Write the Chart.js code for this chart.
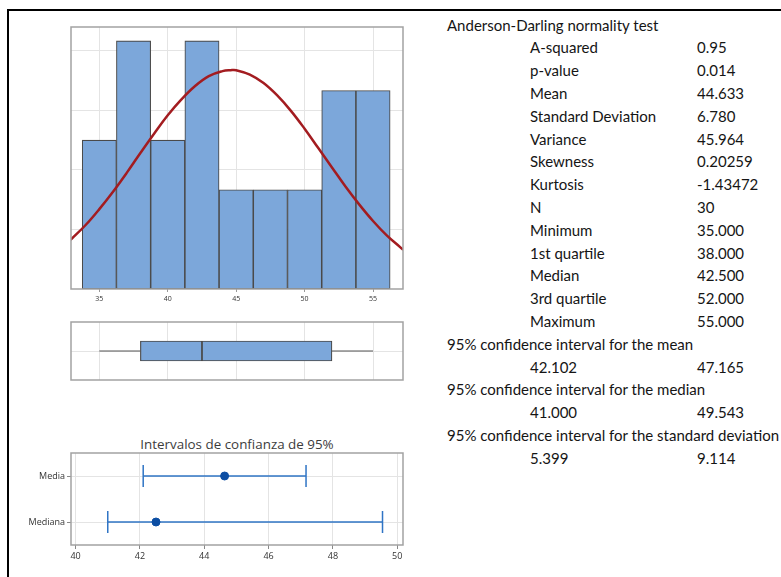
<!DOCTYPE html>
<html>
<head>
<meta charset="utf-8">
<script src="https://cdn.jsdelivr.net/npm/chart.js@4.4.1/dist/chart.umd.min.js"></script>
<style>
  body { margin: 0; background: #fff; }
  #page { position: relative; width: 781px; height: 577px; overflow: hidden; font-family: Lato, sans-serif; color: #151515; }
  #outer { position: absolute; left: 7px; top: 9px; width: 800px; height: 600px; border-top: 2px solid #000; border-left: 2px solid #000; }
  canvas { position: absolute; }
  .txt { position: absolute; font-size: 15px; line-height: 20px; height: 20px; white-space: nowrap; }
  #ciTitle { position: absolute; left: 117px; width: 240px; top: 435px; text-align: center; font: 13.4px "Open Sans", sans-serif; color: #3c3c3c; white-space: nowrap; }
</style>
</head>
<body>
<div id="page">
  <div id="outer"></div>
  <canvas id="hist" width="380" height="300" style="left:40px;top:15px"></canvas>
  <canvas id="box" width="380" height="70" style="left:40px;top:315px"></canvas>
  <div id="ciTitle">Intervalos de confianza de 95%</div>
  <canvas id="ci" width="400" height="130" style="left:20px;top:435px"></canvas>
  <div id="table"></div>
</div>
<script>
// histogram (bin midpoints, counts)
const histMids = [35, 37.5, 40, 42.5, 45, 47.5, 50, 52.5, 55];
const histCounts = [3, 5, 3, 5, 2, 2, 2, 4, 4];
// fitted normal curve (in count units)
const curveX = [32.9, 34, 35, 36, 37, 38, 39, 40, 41, 42, 43, 44, 44.6, 45, 46, 47, 48, 49, 50, 51, 52, 53, 54, 55, 56, 57, 57.2];
const curveY = [0.99, 1.29, 1.61, 1.96, 2.34, 2.74, 3.13, 3.50, 3.82, 4.09, 4.29, 4.39, 4.41, 4.41, 4.32, 4.15, 3.90, 3.59, 3.23, 2.84, 2.45, 2.06, 1.70, 1.37, 1.08, 0.84, 0.79];
const xTicks = [35, 40, 45, 50, 55];
const histGridY = [1.2, 2.4, 3.6, 4.8];
// boxplot: min, Q1, median, Q3, max
const boxStats = [35, 38, 42.5, 52, 55];
// confidence intervals
const ciLabels = ["Media", "Mediana"];
const ciRows = [3, 1];
const ciLow = [42.102, 41.0];
const ciHigh = [47.165, 49.543];
const ciCenter = [44.633, 42.5];
const ciTicks = [40, 42, 44, 46, 48, 50];
// summary table
const statLabels = ["A-squared", "p-value", "Mean", "Standard Deviation", "Variance", "Skewness", "Kurtosis", "N",
  "Minimum", "1st quartile", "Median", "3rd quartile", "Maximum"];
const statValues = ["0.95", "0.014", "44.633", "6.780", "45.964", "0.20259", "-1.43472", "30",
  "35.000", "38.000", "42.500", "52.000", "55.000"];
const ciTitles = ["95% confidence interval for the mean", "95% confidence interval for the median",
  "95% confidence interval for the standard deviation"];
const ciTextLow = ["42.102", "41.000", "5.399"];
const ciTextHigh = ["47.165", "49.543", "9.114"];

Chart.defaults.font.family = '"Open Sans", sans-serif';
Chart.defaults.animation = false;
Chart.defaults.events = [];
Chart.defaults.plugins.legend.display = false;
Chart.defaults.plugins.tooltip.enabled = false;

const gridColor = "#e4e4e4";

const framePlugin = {
  id: "frame",
  afterDraw(chart) {
    const { ctx, chartArea: a } = chart;
    ctx.save();
    ctx.strokeStyle = "#a2a2a2";
    ctx.lineWidth = 1.5;
    ctx.strokeRect(a.left, a.top, a.right - a.left, a.bottom - a.top);
    ctx.restore();
  }
};

function fixedSize(size) {
  return (axis) => {
    if (axis.isHorizontal()) axis.height = size;
    else axis.width = size;
  };
}
function setTicks(values) {
  return (axis) => { axis.ticks = values.map((v) => ({ value: v })); };
}

// histogram + normal curve
new Chart(document.getElementById("hist"), {
  type: "bar",
  data: {
    datasets: [
      {
        type: "line",
        data: curveX.map((x, i) => ({ x: x, y: curveY[i] })),
        borderColor: "#a31c20",
        borderWidth: 2.5,
        pointRadius: 0,
        tension: 0.4,
      },
      {
        type: "bar",
        data: histMids.map((x, i) => ({ x: x, y: histCounts[i] })),
        backgroundColor: "#7ca7da",
        borderColor: "#4a4a4a",
        borderWidth: 1.1,
        borderSkipped: false,
        barPercentage: 1,
        categoryPercentage: 1,
      },
    ],
  },
  options: {
    responsive: false,
    layout: { padding: { left: 31, top: 12, right: 17, bottom: 0 } },
    scales: {
      x: {
        type: "linear",
        min: 32.93,
        max: 57.19,
        offset: false,
        afterBuildTicks: setTicks(xTicks),
        afterFit: fixedSize(26),
        ticks: { font: { size: 7 }, color: "#333", padding: 3 },
        grid: { offset: false, color: gridColor, tickColor: "#999", tickLength: 3 },
        border: { display: false },
      },
      y: {
        min: 0,
        max: 5.28,
        afterBuildTicks: setTicks(histGridY),
        afterFit: fixedSize(0),
        ticks: { display: false },
        grid: { color: gridColor, drawTicks: false },
        border: { display: false },
      },
    },
  },
  plugins: [framePlugin],
});

// boxplot
new Chart(document.getElementById("box"), {
  type: "bar",
  data: {
    datasets: [
      {
        type: "line",
        data: [{ x: boxStats[0], y: 1 }, { x: boxStats[1], y: 1 }],
        borderColor: "#555",
        borderWidth: 1,
        pointRadius: 0,
      },
      {
        type: "line",
        data: [{ x: boxStats[3], y: 1 }, { x: boxStats[4], y: 1 }],
        borderColor: "#555",
        borderWidth: 1,
        pointRadius: 0,
      },
      {
        type: "bar",
        indexAxis: "y",
        data: [{ x: [boxStats[1], boxStats[2]], y: 1 }],
        backgroundColor: "#7ca7da",
        borderColor: "#4a4a4a",
        borderWidth: 1.2,
        borderSkipped: false,
        barThickness: 20,
        grouped: false,
      },
      {
        type: "bar",
        indexAxis: "y",
        data: [{ x: [boxStats[2], boxStats[3]], y: 1 }],
        backgroundColor: "#7ca7da",
        borderColor: "#4a4a4a",
        borderWidth: 1.2,
        borderSkipped: false,
        barThickness: 20,
        grouped: false,
      },
    ],
  },
  options: {
    responsive: false,
    layout: { padding: { left: 31, top: 7, right: 17, bottom: 5 } },
    scales: {
      x: {
        type: "linear",
        min: 32.93,
        max: 57.19,
        offset: false,
        afterBuildTicks: setTicks(xTicks),
        afterFit: fixedSize(0),
        ticks: { display: false },
        grid: { offset: false, color: gridColor, drawTicks: false },
        border: { display: false },
      },
      y: {
        type: "linear",
        min: 0,
        max: 2,
        offset: false,
        afterBuildTicks: setTicks([1]),
        afterFit: fixedSize(0),
        ticks: { display: false },
        grid: { offset: false, color: gridColor, drawTicks: false },
        border: { display: false },
      },
    },
  },
  plugins: [framePlugin],
});

// confidence intervals
const ciDatasets = [
  {
    data: ciCenter.map((x, i) => ({ x: x, y: ciRows[i] })),
    showLine: false,
    pointStyle: "circle",
    pointRadius: 4,
    pointBackgroundColor: "#0c4ea3",
    pointBorderColor: "#0c4ea3",
  },
];
ciLabels.forEach((label, i) => {
  ciDatasets.push({
    data: [{ x: ciLow[i], y: ciRows[i] }, { x: ciHigh[i], y: ciRows[i] }],
    borderColor: "#2f74c5",
    borderWidth: 1.5,
    pointStyle: "line",
    rotation: 90,
    pointRadius: 11,
    pointBorderWidth: 1.5,
    pointBorderColor: "#2f74c5",
  });
});

new Chart(document.getElementById("ci"), {
  type: "line",
  data: { datasets: ciDatasets },
  options: {
    responsive: false,
    layout: { padding: { left: 0, top: 18, right: 17, bottom: 0 } },
    scales: {
      x: {
        type: "linear",
        min: 39.857,
        max: 50.18,
        afterBuildTicks: setTicks(ciTicks),
        afterFit: fixedSize(20),
        ticks: { font: { size: 9 }, color: "#333", padding: 2 },
        grid: { color: gridColor, tickColor: "#888", tickLength: 4 },
        border: { display: false },
      },
      y: {
        type: "linear",
        min: 0,
        max: 4,
        afterBuildTicks: setTicks(ciRows),
        afterFit: fixedSize(51),
        ticks: {
          font: { size: 9 },
          color: "#333",
          padding: 2,
          callback: (v) => ciLabels[ciRows.indexOf(v)],
        },
        grid: { color: gridColor, tickColor: "#888", tickLength: 4 },
        border: { display: false },
      },
    },
  },
  plugins: [framePlugin],
});

// summary text
const table = document.getElementById("table");
function addText(text, x, row) {
  const d = document.createElement("div");
  d.className = "txt";
  d.textContent = text;
  d.style.left = x + "px";
  d.style.top = (24.5 + 22.8 * row - 10).toFixed(1) + "px";
  table.appendChild(d);
}
addText("Anderson-Darling normality test", 447, 0);
statLabels.forEach((label, i) => {
  addText(label, 530, i + 1);
  addText(statValues[i], 697, i + 1);
});
ciTitles.forEach((title, i) => {
  const row = 14 + i * 2;
  addText(title, 447, row);
  addText(ciTextLow[i], 530, row + 1);
  addText(ciTextHigh[i], 697, row + 1);
});
</script>
</body>
</html>
